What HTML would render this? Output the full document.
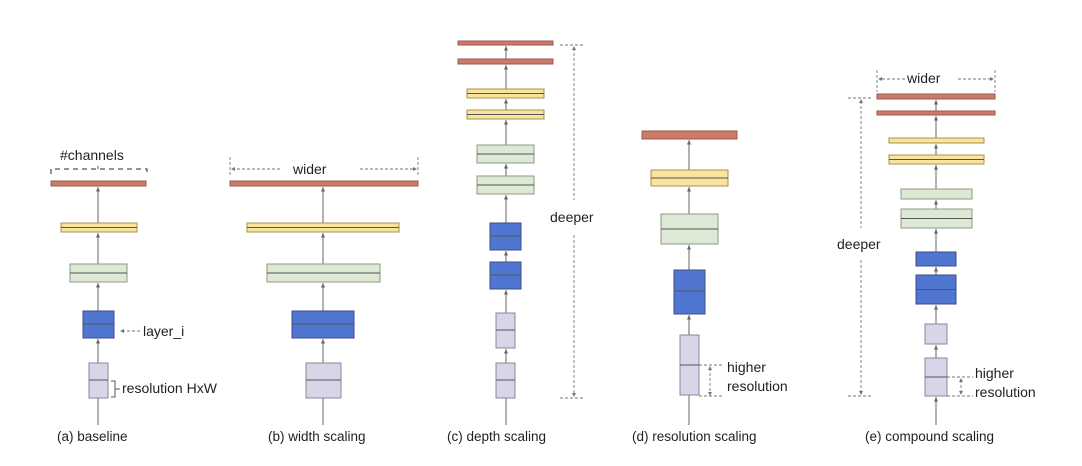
<!DOCTYPE html>
<html><head><meta charset="utf-8"><style>
html,body{margin:0;padding:0;background:#fff;}
svg{display:block;}
text{font-family:"Liberation Sans",sans-serif;fill:#222;}
.r{fill:#cc7a6a;stroke:#9a5a4c;stroke-width:1;}
.y{fill:#f8e49c;stroke:#a89050;stroke-width:1;}
.g{fill:#dde8d5;stroke:#8c9a84;stroke-width:1;}
.b{fill:#5076d2;stroke:#3a4e88;stroke-width:1;}
.l{fill:#d9d4e8;stroke:#8c879a;stroke-width:1;}
.m{stroke:#555;stroke-width:1;}
.a{stroke:#666;stroke-width:1;fill:none;marker-end:url(#ah);}
.d{stroke:#777;stroke-width:0.9;stroke-dasharray:3,2;fill:none;}
.dd{stroke:#555;stroke-width:1.3;stroke-dasharray:5,4;fill:none;}
</style></head><body>
<svg width="1082" height="466" viewBox="0 0 1082 466" xmlns="http://www.w3.org/2000/svg">
<defs>
<marker id="ah" markerWidth="6" markerHeight="6" refX="5" refY="3" orient="auto" markerUnits="userSpaceOnUse" viewBox="0 0 6 6"><path d="M0.5,1 L5,3 L0.5,5 Z" fill="#666"/></marker>
</defs>

<!-- (a) baseline -->
<g>
<line class="a" x1="98" y1="425" x2="98" y2="364"/>
<line class="a" x1="98" y1="363" x2="98" y2="339"/>
<line class="a" x1="98" y1="311" x2="98" y2="283"/>
<line class="a" x1="98" y1="264" x2="98" y2="233"/>
<line class="a" x1="98" y1="223" x2="98" y2="187"/>
<rect class="r" x="51" y="181" width="95" height="5"/>
<rect class="y" x="61" y="223" width="76" height="9"/><line class="m" x1="61" y1="227.5" x2="137" y2="227.5"/>
<rect class="g" x="70" y="264" width="57" height="18"/><line class="m" x1="70" y1="273" x2="127" y2="273"/>
<rect class="b" x="83" y="311" width="31" height="27"/><line class="m" x1="83" y1="324" x2="114" y2="324"/>
<rect class="l" x="89" y="363" width="19" height="35"/><line class="m" x1="89" y1="380" x2="108" y2="380"/>
<path class="dd" d="M51,174 L51,169 L147,169 L147,174"/>
<line x1="98" y1="169" x2="98" y2="166" stroke="#555"/>
<text x="60" y="160" font-size="14">#channels</text>
<line class="d" x1="140" y1="331" x2="121" y2="331"/>
<path d="M124,329 L120,331 L124,333 Z" fill="#777"/>
<text x="143" y="336" font-size="14">layer_i</text>
<path d="M111,381 L115,381 L115,397 L111,397 M115,389 L120,389" stroke="#555" stroke-width="1" fill="none"/>
<text x="122" y="393" font-size="14">resolution HxW</text>
<text x="57" y="441" font-size="13.5">(a) baseline</text>
</g>

<!-- (b) width -->
<g>
<line class="a" x1="323" y1="425" x2="323" y2="364"/>
<line class="a" x1="323" y1="363" x2="323" y2="339"/>
<line class="a" x1="323" y1="311" x2="323" y2="283"/>
<line class="a" x1="323" y1="264" x2="323" y2="233"/>
<line class="a" x1="323" y1="223" x2="323" y2="187"/>
<rect class="r" x="230" y="181" width="188" height="5"/>
<rect class="y" x="247" y="223" width="152" height="9"/><line class="m" x1="247" y1="227.5" x2="399" y2="227.5"/>
<rect class="g" x="267" y="264" width="113" height="18"/><line class="m" x1="267" y1="273" x2="380" y2="273"/>
<rect class="b" x="292" y="311" width="62" height="27"/><line class="m" x1="292" y1="324" x2="354" y2="324"/>
<rect class="l" x="306" y="363" width="35" height="35"/><line class="m" x1="306" y1="380" x2="341" y2="380"/>
<line class="d" x1="230" y1="157" x2="230" y2="176"/>
<line class="d" x1="418" y1="157" x2="418" y2="176"/>
<line class="d" x1="280" y1="169" x2="233" y2="169"/><path d="M235,167 L231,169 L235,171 Z" fill="#777"/>
<line class="d" x1="360" y1="169" x2="415" y2="169"/><path d="M413,167 L417,169 L413,171 Z" fill="#777"/>
<text x="293" y="174" font-size="14">wider</text>
<text x="268" y="441" font-size="13.5">(b) width scaling</text>
</g>

<!-- (c) depth -->
<g>
<line class="a" x1="506" y1="425" x2="506" y2="364"/>
<line class="a" x1="506" y1="363" x2="506" y2="349"/>
<line class="a" x1="506" y1="313" x2="506" y2="290"/>
<line class="a" x1="506" y1="262" x2="506" y2="251"/>
<line class="a" x1="506" y1="223" x2="506" y2="195"/>
<line class="a" x1="506" y1="176" x2="506" y2="164"/>
<line class="a" x1="506" y1="145" x2="506" y2="120"/>
<line class="a" x1="506" y1="110" x2="506" y2="99"/>
<line class="a" x1="506" y1="89" x2="506" y2="65"/>
<line class="a" x1="506" y1="59" x2="506" y2="46"/>
<rect class="r" x="458" y="41" width="95" height="4"/>
<rect class="r" x="458" y="59" width="95" height="5"/>
<rect class="y" x="467" y="89" width="77" height="9"/><line class="m" x1="467" y1="93.5" x2="544" y2="93.5"/>
<rect class="y" x="467" y="110" width="77" height="9"/><line class="m" x1="467" y1="114.5" x2="544" y2="114.5"/>
<rect class="g" x="477" y="145" width="57" height="18"/><line class="m" x1="477" y1="154" x2="534" y2="154"/>
<rect class="g" x="477" y="176" width="57" height="18"/><line class="m" x1="477" y1="185" x2="534" y2="185"/>
<rect class="b" x="490" y="223" width="31" height="27"/><line class="m" x1="490" y1="236" x2="521" y2="236"/>
<rect class="b" x="490" y="262" width="31" height="27"/><line class="m" x1="490" y1="275" x2="521" y2="275"/>
<rect class="l" x="496" y="313" width="19" height="35"/><line class="m" x1="496" y1="330" x2="515" y2="330"/>
<rect class="l" x="496" y="363" width="19" height="35"/><line class="m" x1="496" y1="380" x2="515" y2="380"/>
<line class="d" x1="560" y1="45" x2="585" y2="45"/>
<line class="d" x1="560" y1="398" x2="585" y2="398"/>
<line class="d" x1="574" y1="48" x2="574" y2="200"/><path d="M572,50 L574,46 L576,50 Z" fill="#777"/>
<line class="d" x1="574" y1="235" x2="574" y2="395"/><path d="M572,393 L574,397 L576,393 Z" fill="#777"/>
<text x="550" y="222" font-size="14">deeper</text>
<text x="447" y="441" font-size="13.5">(c) depth scaling</text>
</g>

<!-- (d) resolution -->
<g>
<line class="a" x1="689" y1="425" x2="689" y2="336"/>
<line class="a" x1="689" y1="335" x2="689" y2="315"/>
<line class="a" x1="689" y1="270" x2="689" y2="245"/>
<line class="a" x1="689" y1="214" x2="689" y2="187"/>
<line class="a" x1="689" y1="170" x2="689" y2="140"/>
<rect class="r" x="642" y="131" width="95" height="8"/>
<rect class="y" x="651" y="170" width="77" height="16"/><line class="m" x1="651" y1="178" x2="728" y2="178"/>
<rect class="g" x="661" y="214" width="57" height="30"/><line class="m" x1="661" y1="229" x2="718" y2="229"/>
<rect class="b" x="674" y="270" width="31" height="44"/><line class="m" x1="674" y1="291" x2="705" y2="291"/>
<rect class="l" x="680" y="335" width="19" height="60"/><line class="m" x1="680" y1="365" x2="699" y2="365"/>
<line class="d" x1="699" y1="365" x2="722" y2="365"/>
<line class="d" x1="699" y1="396" x2="722" y2="396"/>
<line class="d" x1="710" y1="368" x2="710" y2="393"/>
<path d="M708,370 L710,366 L712,370 Z M708,392 L710,396 L712,392 Z" fill="#777"/>
<text x="727" y="372" font-size="14">higher</text>
<text x="727" y="391" font-size="14">resolution</text>
<text x="632" y="441" font-size="13.5">(d) resolution scaling</text>
</g>

<!-- (e) compound -->
<g>
<line class="a" x1="936" y1="425" x2="936" y2="397"/>
<line class="a" x1="936" y1="358" x2="936" y2="345"/>
<line class="a" x1="936" y1="324" x2="936" y2="305"/>
<line class="a" x1="936" y1="275" x2="936" y2="267"/>
<line class="a" x1="936" y1="252" x2="936" y2="229"/>
<line class="a" x1="936" y1="209" x2="936" y2="200"/>
<line class="a" x1="936" y1="189" x2="936" y2="165"/>
<line class="a" x1="936" y1="155" x2="936" y2="144"/>
<line class="a" x1="936" y1="138" x2="936" y2="116"/>
<line class="a" x1="936" y1="111" x2="936" y2="100"/>
<rect class="r" x="877" y="94" width="118" height="5"/>
<rect class="r" x="877" y="111" width="118" height="4"/>
<rect class="y" x="889" y="138" width="95" height="5"/>
<rect class="y" x="889" y="155" width="95" height="9"/><line class="m" x1="889" y1="159.5" x2="984" y2="159.5"/>
<rect class="g" x="901" y="189" width="71" height="10"/>
<rect class="g" x="901" y="209" width="71" height="19"/><line class="m" x1="901" y1="218.5" x2="972" y2="218.5"/>
<rect class="b" x="916" y="252" width="40" height="14"/>
<rect class="b" x="916" y="275" width="40" height="29"/><line class="m" x1="916" y1="289.5" x2="956" y2="289.5"/>
<rect class="l" x="925" y="324" width="22" height="20"/>
<rect class="l" x="925" y="358" width="22" height="38"/><line class="m" x1="925" y1="377" x2="947" y2="377"/>
<line class="d" x1="877" y1="70" x2="877" y2="92"/>
<line class="d" x1="995" y1="70" x2="995" y2="92"/>
<line class="d" x1="905" y1="79" x2="880" y2="79"/><path d="M882,77 L878,79 L882,81 Z" fill="#777"/>
<line class="d" x1="958" y1="79" x2="992" y2="79"/><path d="M990,77 L994,79 L990,81 Z" fill="#777"/>
<text x="907" y="83" font-size="14">wider</text>
<line class="d" x1="848" y1="98" x2="872" y2="98"/>
<line class="d" x1="848" y1="396" x2="872" y2="396"/>
<line class="d" x1="861" y1="101" x2="861" y2="228"/><path d="M859,103 L861,99 L863,103 Z" fill="#777"/>
<line class="d" x1="861" y1="260" x2="861" y2="393"/><path d="M859,391 L861,395 L863,391 Z" fill="#777"/>
<text x="837" y="249" font-size="14">deeper</text>
<line class="d" x1="947" y1="377" x2="973" y2="377"/>
<line class="d" x1="947" y1="396" x2="973" y2="396"/>
<line class="d" x1="961" y1="380" x2="961" y2="393"/>
<path d="M959,382 L961,378 L963,382 Z M959,391 L961,395 L963,391 Z" fill="#777"/>
<text x="975" y="378" font-size="14">higher</text>
<text x="975" y="397" font-size="14">resolution</text>
<text x="865" y="441" font-size="13.5">(e) compound scaling</text>
</g>
</svg>
</body></html>
